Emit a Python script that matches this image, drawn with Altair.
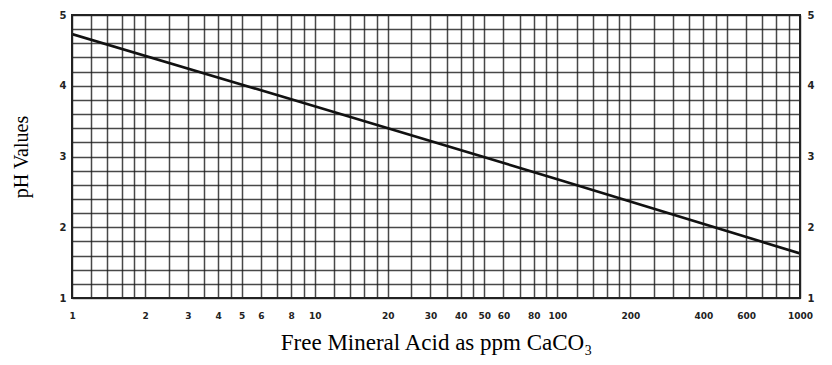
import altair as alt
import pandas as pd

# Line (ppm CaCO3 vs pH)
acid_ppm = [1, 10, 100, 1000]
ph_values = [4.73, 3.71, 2.68, 1.63]

# Grid / tick values
x_grid = []
for dec in [1, 10, 100]:
    for m in [1, 1.2, 1.4, 1.6, 1.8, 2, 2.5, 3, 3.5, 4, 4.5, 5, 6, 7, 8, 9]:
        x_grid.append(round(m * dec, 6))
x_grid.append(1000)
x_labels = [1, 2, 3, 4, 5, 6, 8, 10, 20, 30, 40, 50, 60, 80, 100, 200, 400, 600, 1000]
y_grid = [round(1 + 0.2 * i, 2) for i in range(21)]
y_labels = [1, 2, 3, 4, 5]

df = pd.DataFrame({"ppm": acid_ppm, "ph": ph_values})

label_expr = "indexof([" + ",".join(str(v) for v in x_labels) + "], datum.value) >= 0 ? format(datum.value, 'd') : ''"
ylabel_expr = "indexof([" + ",".join(str(v) for v in y_labels) + "], datum.value) >= 0 ? format(datum.value, 'd') : ''"

x_enc = alt.X(
    "ppm:Q",
    scale=alt.Scale(type="log", domain=[1, 1000], nice=False),
    axis=alt.Axis(
        values=x_grid, labelExpr=label_expr, grid=True,
        gridColor="#1a1a1a", gridWidth=1.5, gridOpacity=0.8,
        ticks=False, domain=False, labelFont="DejaVu Sans", labelFontWeight="bold",
        labelFontSize=9, labelColor="#222", labelPadding=13, labelFlush=False,
        labelOverlap=False,
        title="Free Mineral Acid as ppm CaCO₃", titleFont="Liberation Serif",
        titleFontWeight="normal", titleFontSize=23, titleColor="#000", titlePadding=11,
    ),
)

y_left = alt.Y(
    "ph:Q",
    scale=alt.Scale(domain=[1, 5], nice=False, zero=False),
    axis=alt.Axis(
        values=y_grid, labelExpr=ylabel_expr, grid=True, gridColor="#1a1a1a",
        gridWidth=1.5, gridOpacity=0.8, ticks=False, domain=False,
        labelFont="DejaVu Sans", labelFontWeight="bold", labelFontSize=10,
        labelColor="#222", labelPadding=6, labelFlush=False, labelOverlap=False,
        title="pH Values", titleFont="Liberation Serif", titleFontWeight="normal",
        titleFontSize=20, titleColor="#000", titlePadding=28,
    ),
)

y_right = alt.Y(
    "ph:Q",
    scale=alt.Scale(domain=[1, 5], nice=False, zero=False),
    axis=alt.Axis(
        orient="right", values=y_labels, labelExpr="format(datum.value, 'd')",
        grid=False, ticks=False, domain=False,
        labelFont="DejaVu Sans", labelFontWeight="bold", labelFontSize=10,
        labelColor="#222", labelPadding=7, labelFlush=False, labelOverlap=False,
        title=None,
    ),
)

line = alt.Chart(df).mark_line(color="#111", strokeWidth=2.6, clip=True).encode(x=x_enc, y=y_left)
right = alt.Chart(df).mark_line(opacity=0).encode(x=x_enc, y=y_right)
frame = alt.Chart(df).mark_rect(fill=None, fillOpacity=0, stroke="#222", strokeWidth=2).encode(
    x=alt.value(0), x2=alt.value(728), y=alt.value(0), y2=alt.value(283)
)

chart = (
    alt.layer(line, right, frame)
    .resolve_axis(y="independent")
    .properties(
        width=728, height=283,
        autosize=alt.AutoSizeParams(type="none"),
        padding={"left": 64, "top": 7, "right": 24, "bottom": 60},
    )
    .configure_view(stroke=None)
    .configure(background="white")
)

chart.save("out.html", embed_options={"renderer": "svg", "actions": False})
